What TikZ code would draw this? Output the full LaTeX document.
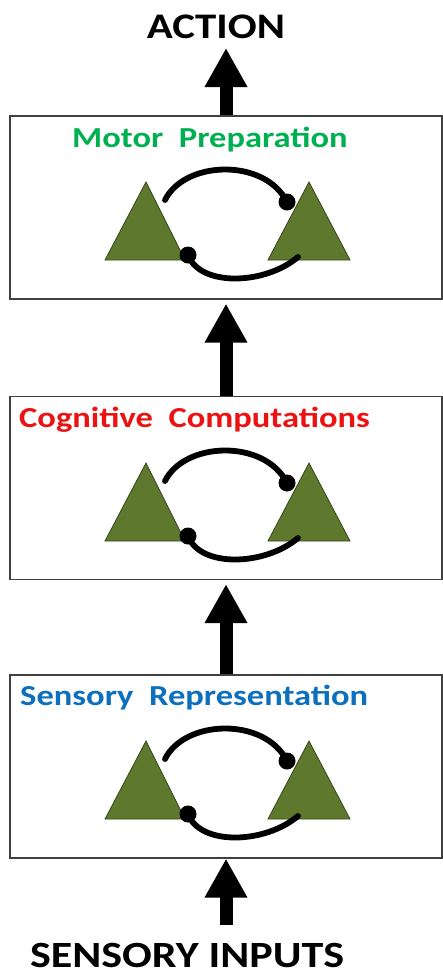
\documentclass[tikz,border=0pt]{standalone}
\usepackage{fontspec}
\setmainfont{Carlito}
\usepackage{graphicx}
\usetikzlibrary{arrows.meta}
\usetikzlibrary{positioning}

\definecolor{motorgreen}{RGB}{0,176,80}
\definecolor{cogred}{RGB}{236,18,18}
\definecolor{sensblue}{RGB}{12,112,190}
\definecolor{cellgreen}{RGB}{94,120,45}
\definecolor{celledge}{RGB}{55,70,25}

\newcommand{\widetxt}[1]{\scalebox{1.19}[1]{#1}}

\tikzset{
  bigarrow/.style={line width=13pt,-{Triangle[width=40pt,length=39pt]}},
  cell/.style={fill=cellgreen,draw=celledge,line width=0.8pt},
  loopline/.style={line width=5.8pt,line cap=round}
}

\begin{document}
\begin{tikzpicture}[x=1pt,y=-1pt]
  \useasboundingbox (0,0) rectangle (443,977);
  % stages
  \begin{scope}[every node/.style={draw=black!75,line width=1.2pt,minimum width=432pt,minimum height=183pt,inner sep=0pt}]
    \node (motor) at (226,207.5) {};
    \node (cognitive) at (226,488) {};
    \node (sensory) at (226,766.5) {};
  \end{scope}
  % titles
  \begin{scope}[every node/.style={inner sep=0pt,anchor=base west,font=\fontsize{29}{32}\selectfont\bfseries}]
    \node[text=motorgreen] (motortxt) at (72,147) {\widetxt{Motor~~Preparation}};
    \node[text=cogred] (cogtxt) at (19,427) {\widetxt{Cognitive~~Computations}};
    \node[text=sensblue] (senstxt) at (20,705) {\widetxt{Sensory~~Representation}};
  \end{scope}
  \node[inner sep=0pt,anchor=base,font=\fontsize{36}{40}\selectfont\bfseries] (action) at (216,38) {\widetxt{ACTION}};
  \node[inner sep=0pt,anchor=base,font=\fontsize{37}{42}\selectfont\bfseries] (inputs) at (187,967) {\widetxt{SENSORY INPUTS}};
  % two cells with their loop in every stage
  \foreach \b/\t in {motor/116,cognitive/397,sensory/675}{
    \begin{scope}[shift={(0,\t)}]
      \filldraw[cell] (105,144) -- (146,66) -- (185,144) -- cycle;
      \filldraw[cell] (268,144) -- (309,66) -- (350,144) -- cycle;
      \coordinate (\b-ua) at (165,84);
      \coordinate (\b-ub) at (287,86);
      \coordinate (\b-la) at (188,139);
      \coordinate (\b-lb) at (298,141);
      \draw[loopline] (\b-ua) .. controls +(20,-40) and +(-22,-44) .. (\b-ub);
      \draw[loopline] (\b-la) .. controls +(12,32) and +(-33,28) .. (\b-lb);
      \fill (\b-ub) circle[radius=8.5pt];
      \fill (\b-la) circle[radius=8.5pt];
    \end{scope}
  }
  % flow
  \coordinate (acttip) at (226,48);
  \coordinate (inbase) at (226,925);
  \begin{scope}[every edge/.style={draw=black,bigarrow}]
    \path (motor.north) edge (acttip);
    \path (cognitive.north) edge[shorten >=4pt] (motor.south);
    \path (sensory.north) edge[shorten >=4pt] (cognitive.south);
    \path (inbase) edge (sensory.south);
  \end{scope}
\end{tikzpicture}
\end{document}
